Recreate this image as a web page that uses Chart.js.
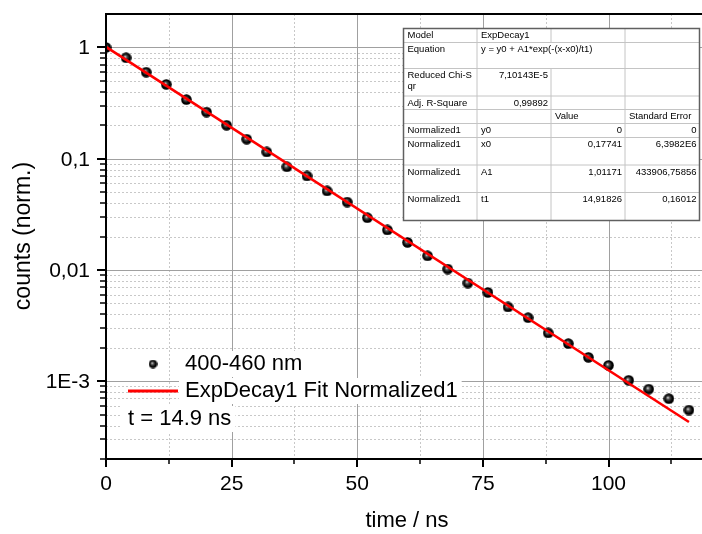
<!DOCTYPE html>
<html>
<head>
<meta charset="utf-8">
<script src="https://cdn.jsdelivr.net/npm/chart.js@4/dist/chart.umd.min.js"></script>
<style>
  html, body { margin: 0; padding: 0; background: #fff; }
  #wrap { width: 702px; height: 534px; }
</style>
</head>
<body>
<div id="wrap"><canvas id="chart" width="702" height="534"></canvas></div>
<script>
// measured decay, every 4 ns
const timeNs = [0, 4, 8, 12, 16, 20, 24, 28, 32, 36, 40, 44, 48, 52, 56, 60, 64, 68, 72, 76, 80, 84, 88, 92, 96, 100, 104, 108, 112, 116];
const counts = [1.0, 0.809, 0.600, 0.466, 0.340, 0.263, 0.200, 0.150, 0.115, 0.0847,
    0.0700, 0.0514, 0.0408, 0.0295, 0.0229, 0.0177, 0.0134, 0.0102, 0.00763, 0.00628,
    0.00465, 0.00373, 0.00272, 0.00218, 0.00164, 0.00139, 0.00102, 0.00085, 0.000697, 0.000551];

// fit line end points (straight on log axis)
const fitTime = [0, 116];
const fitCounts = [1.012, 0.00043];

const xMajorTicks = [0, 25, 50, 75, 100];
const xTickLabels = ['0', '25', '50', '75', '100'];
const xMinorTicks = [12.5, 37.5, 62.5, 87.5, 112.5];
const yMajorTicks = [0.001, 0.01, 0.1, 1];
const yTickLabels = ['1E-3', '0,01', '0,1', '1'];

const seriesLabel = '400-460 nm';
const fitLabel = 'ExpDecay1 Fit Normalized1';
const noteText = 't = 14.9 ns';

const tableCells = [
    ['Model', 'ExpDecay1', '', ''],
    ['Equation', 'y = y0 + A1*exp(-(x-x0)/t1)', '', ''],
    ['Reduced Chi-S\nqr', '7,10143E-5', '', ''],
    ['Adj. R-Square', '0,99892', '', ''],
    ['', '', 'Value', 'Standard Error'],
    ['Normalized1', 'y0', '0', '0'],
    ['Normalized1', 'x0', '0,17741', '6,3982E6'],
    ['Normalized1', 'A1', '1,01171', '433906,75856'],
    ['Normalized1', 't1', '14,91826', '0,16012'],
];

const FONT = '"Liberation Sans", Arial, sans-serif';

// minor log ticks 2..9 in each decade
const yMinorTicks = [];
[1e-4, 1e-3, 1e-2, 1e-1].forEach(d => {
    for (let k = 2; k <= 9; k++) yMinorTicks.push(d * k);
});

function sphere(d) {
    const c = document.createElement('canvas');
    c.width = c.height = d;
    const g = c.getContext('2d');
    const r = d / 2;
    const grad = g.createRadialGradient(r * 0.8, r * 0.8, 0, r, r, r);
    grad.addColorStop(0, '#f0f0f0');
    grad.addColorStop(0.3, '#505050');
    grad.addColorStop(0.7, '#000');
    grad.addColorStop(1, '#000');
    g.fillStyle = grad;
    g.beginPath();
    g.arc(r, r, r - 0.2, 0, Math.PI * 2);
    g.fill();
    return c;
}
const ball = sphere(11);
const smallBall = sphere(9);

function crisp(p) { return Math.round(p) + 0.5; }

const gridPlugin = {
    id: 'originGrid',
    beforeDatasetsDraw(chart) {
        const { ctx, chartArea: a, scales: { x, y } } = chart;
        ctx.save();
        ctx.lineWidth = 1;
        ctx.strokeStyle = '#c8c8c8';
        ctx.setLineDash([2, 2]);
        yMinorTicks.forEach(v => {
            const p = crisp(y.getPixelForValue(v));
            if (p < a.top + 1 || p > a.bottom - 1) return;
            ctx.beginPath(); ctx.moveTo(a.left, p); ctx.lineTo(a.right, p); ctx.stroke();
        });
        xMinorTicks.forEach(v => {
            const p = crisp(x.getPixelForValue(v));
            ctx.beginPath(); ctx.moveTo(p, a.top); ctx.lineTo(p, a.bottom); ctx.stroke();
        });
        ctx.setLineDash([]);
        ctx.strokeStyle = '#a0a0a0';
        yMajorTicks.forEach(v => {
            const p = crisp(y.getPixelForValue(v));
            ctx.beginPath(); ctx.moveTo(a.left, p); ctx.lineTo(a.right, p); ctx.stroke();
        });
        xMajorTicks.forEach(v => {
            const p = crisp(x.getPixelForValue(v));
            ctx.beginPath(); ctx.moveTo(p, a.top); ctx.lineTo(p, a.bottom); ctx.stroke();
        });
        ctx.restore();
    },
    afterDraw(chart) {
        const { ctx, chartArea: a, scales: { x, y } } = chart;
        ctx.save();
        // frame
        ctx.strokeStyle = '#000';
        ctx.lineWidth = 2;
        ctx.beginPath();
        ctx.moveTo(a.right, a.top); ctx.lineTo(a.left, a.top);
        ctx.lineTo(a.left, a.bottom); ctx.lineTo(a.right, a.bottom);
        ctx.stroke();

        // tick marks
        yMajorTicks.forEach(v => {
            const p = Math.round(y.getPixelForValue(v));
            ctx.beginPath(); ctx.moveTo(a.left - 9, p); ctx.lineTo(a.left, p); ctx.stroke();
        });
        xMajorTicks.forEach(v => {
            const p = Math.round(x.getPixelForValue(v));
            ctx.beginPath(); ctx.moveTo(p, a.bottom); ctx.lineTo(p, a.bottom + 8); ctx.stroke();
        });
        ctx.lineWidth = 1.5;
        yMinorTicks.forEach(v => {
            const p = Math.round(y.getPixelForValue(v));
            if (p < a.top || p > a.bottom) return;
            ctx.beginPath(); ctx.moveTo(a.left - 6, p); ctx.lineTo(a.left, p); ctx.stroke();
        });
        xMinorTicks.forEach(v => {
            const p = Math.round(x.getPixelForValue(v));
            ctx.beginPath(); ctx.moveTo(p, a.bottom); ctx.lineTo(p, a.bottom + 5); ctx.stroke();
        });

        // tick labels
        ctx.fillStyle = '#000';
        ctx.font = '21px ' + FONT;
        ctx.textAlign = 'right';
        ctx.textBaseline = 'middle';
        yMajorTicks.forEach((v, i) => {
            ctx.fillText(yTickLabels[i], a.left - 16, y.getPixelForValue(v) + 1);
        });
        ctx.textAlign = 'center';
        xMajorTicks.forEach((v, i) => {
            ctx.fillText(xTickLabels[i], x.getPixelForValue(v), a.bottom + 25);
        });

        // axis titles
        ctx.font = '22px ' + FONT;
        ctx.fillText('time / ns', 407, 521);
        ctx.save();
        ctx.translate(24, 236);
        ctx.rotate(-Math.PI / 2);
        ctx.font = '23px ' + FONT;
        ctx.fillText('counts (norm.)', 0, 0);
        ctx.restore();

        // legend
        ctx.font = '22px ' + FONT;
        ctx.textAlign = 'left';
        const entries = [[seriesLabel, 185, 364], [fitLabel, 185, 391], [noteText, 128, 419]];
        entries.forEach(([t, tx, ty]) => {
            const w = ctx.measureText(t).width;
            ctx.fillStyle = '#fff';
            ctx.fillRect(tx - 6, ty - 13, w + 10, 26);
        });
        ctx.fillStyle = '#000';
        entries.forEach(([t, tx, ty]) => ctx.fillText(t, tx, ty));
        ctx.drawImage(smallBall, 153 - 4.5, 364 - 4.5);
        ctx.strokeStyle = '#ff0000';
        ctx.lineWidth = 3;
        ctx.beginPath(); ctx.moveTo(128, 391); ctx.lineTo(178, 391); ctx.stroke();

        drawTable(ctx);
        ctx.restore();
    }
};

function drawTable(ctx) {
    const cols = [403.5, 477, 551, 625, 699.5];
    const rows = [28.5, 42.5, 68.5, 96, 109.5, 123.5, 137.5, 165, 192.5, 220.5];
    ctx.fillStyle = '#fff';
    ctx.fillRect(cols[0], rows[0], cols[4] - cols[0], rows[rows.length - 1] - rows[0]);

    ctx.strokeStyle = '#c4c4c4';
    ctx.lineWidth = 1;
    for (let r = 1; r < rows.length - 1; r++) {
        ctx.beginPath(); ctx.moveTo(cols[0], rows[r]); ctx.lineTo(cols[4], rows[r]); ctx.stroke();
    }
    for (let c = 1; c < 4; c++) {
        for (let r = 0; r < rows.length - 1; r++) {
            if (c === 2 && r === 1) continue; // equation spills over
            ctx.beginPath(); ctx.moveTo(cols[c], rows[r]); ctx.lineTo(cols[c], rows[r + 1]); ctx.stroke();
        }
    }
    ctx.strokeStyle = '#606060';
    ctx.lineWidth = 1.5;
    ctx.strokeRect(cols[0], rows[0], cols[4] - cols[0], rows[rows.length - 1] - rows[0]);

    ctx.fillStyle = '#000';
    ctx.font = '9.5px ' + FONT;
    ctx.textBaseline = 'top';
    tableCells.forEach((row, r) => {
        row.forEach((txt, c) => {
            if (!txt) return;
            const numeric = /^[0-9]/.test(txt) && !(c === 1 && r < 2);
            const lines = txt.split('\n');
            lines.forEach((ln, k) => {
                const ty = rows[r] + 2.5 + k * 11;
                if (numeric) {
                    ctx.textAlign = 'right';
                    ctx.fillText(ln, cols[c + 1] - 3, ty);
                } else {
                    ctx.textAlign = 'left';
                    ctx.fillText(ln, cols[c] + 4, ty);
                }
            });
        });
    });
}

new Chart(document.getElementById('chart'), {
    type: 'scatter',
    data: {
        datasets: [
            {
                label: fitLabel,
                data: fitTime.map((t, i) => ({ x: t, y: fitCounts[i] })),
                showLine: true,
                borderColor: '#ff0000',
                borderWidth: 2.5,
                pointRadius: 0,
                fill: false,
            },
            {
                label: seriesLabel,
                data: timeNs.map((t, i) => ({ x: t, y: counts[i] })),
                pointStyle: ball,
                pointRadius: 5.5,
                showLine: false,
            },
        ],
    },
    options: {
        responsive: false,
        animation: false,
        layout: { autoPadding: false, padding: { left: 106, top: 14, right: 0, bottom: 75 } },
        scales: {
            x: { type: 'linear', min: 0, max: 118.6, display: false },
            y: { type: 'logarithmic', min: 2e-4, max: 2, display: false },
        },
        plugins: {
            legend: { display: false },
            tooltip: { enabled: false },
        },
    },
    plugins: [gridPlugin],
});
</script>
</body>
</html>
